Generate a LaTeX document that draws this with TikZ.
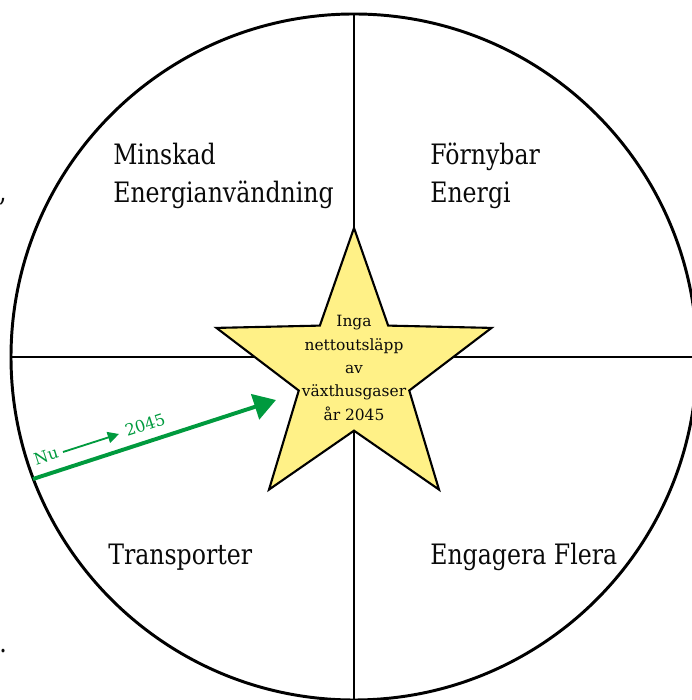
\documentclass[tikz,border=0pt]{standalone}
\usepackage{fontspec}
\setmainfont{DejaVu Serif}
\newfontfamily\quadfont{DejaVu Serif}[FakeStretch=0.84]
\usepackage{xcolor}
\usepackage{tikz}
\usetikzlibrary{positioning, arrows.meta, shapes.geometric}
\definecolor{starFill}{RGB}{255,241,135}
\definecolor{arrowGreen}{RGB}{0,154,62}
\definecolor{textDark}{RGB}{10,10,10}

\begin{document}
\begin{tikzpicture}[
    every node/.style={text=textDark},
    quadlabel/.style={anchor=west, align=left, inner sep=0pt,
        font=\quadfont\fontsize{20}{27}\selectfont},
    goalstar/.style={star, star points=5, star point ratio=2.49,
        minimum size=7.23cm, inner sep=0pt, draw=black,
        line width=1.5pt, fill=starFill},
    goaltext/.style={align=center, inner sep=0pt,
        font=\fontsize{11}{16.7}\selectfont},
    greentext/.style={text=arrowGreen, inner sep=0pt, rotate=18,
        font=\fontsize{11.5}{13}\selectfont},
]
% Canvas: x in [0, 17.3], y in [0, 17.5]
\useasboundingbox (0,0) rectangle (17.3,17.5);
\clip (0,0) rectangle (17.3,17.5);

% --- Outer wheel + quadrant cross ---
\draw[line width=2.1pt] (8.85, 8.575) circle (8.575);
\draw[line width=1.5pt] (8.85, 0) -- (8.85, 17.15);
\draw[line width=1.5pt] (0.275, 8.575) -- (17.425, 8.575);

% --- Quadrant labels ---
\node[quadlabel] (reduce)    at (2.825, 13.10) {Minskad\\Energianvändning};
\node[quadlabel] (renew)     at (10.75, 13.10) {Förnybar\\Energi};
\node[quadlabel] (transport) at (2.70,  3.575) {Transporter};
\node[quadlabel] (engage)    at (10.75, 3.575) {Engagera Flera};

% stray marks cut off at the left edge
\node[font=\quadfont\fontsize{20}{20}\selectfont, inner sep=0pt] (comma) at (0.07, 12.45) {,};
\node[font=\quadfont\fontsize{20}{20}\selectfont, inner sep=0pt] (dot)   at (0.08, 1.22) {.};

% --- Goal star ---
\node[goalstar] (goal) at (8.85, 8.185) {};
\node[goaltext] (goaltxt) at (8.85, 8.30)
    {Inga\\nettoutsläpp\\av\\växthusgaser\\år 2045};

% --- Pathway arrow: now -> 2045 ---
\coordinate (nowpt)  at (0.825, 5.525);
\coordinate (goalpt) at (6.90, 7.50);
\draw[arrowGreen, line width=2.8pt,
    -{Triangle[length=5.5mm, width=6.5mm]}] (nowpt) -- (goalpt);

\node[greentext] (nu)   at (1.15, 6.10) {Nu};
\node[greentext] (year) at (3.625, 6.875) {2045};
\coordinate (smallA) at (1.575, 6.20);
\coordinate (smallB) at (2.975, 6.65);
\draw[arrowGreen, line width=1.3pt,
    -{Triangle[length=2.8mm, width=2.8mm]}] (smallA) -- (smallB);

\end{tikzpicture}
\end{document}
